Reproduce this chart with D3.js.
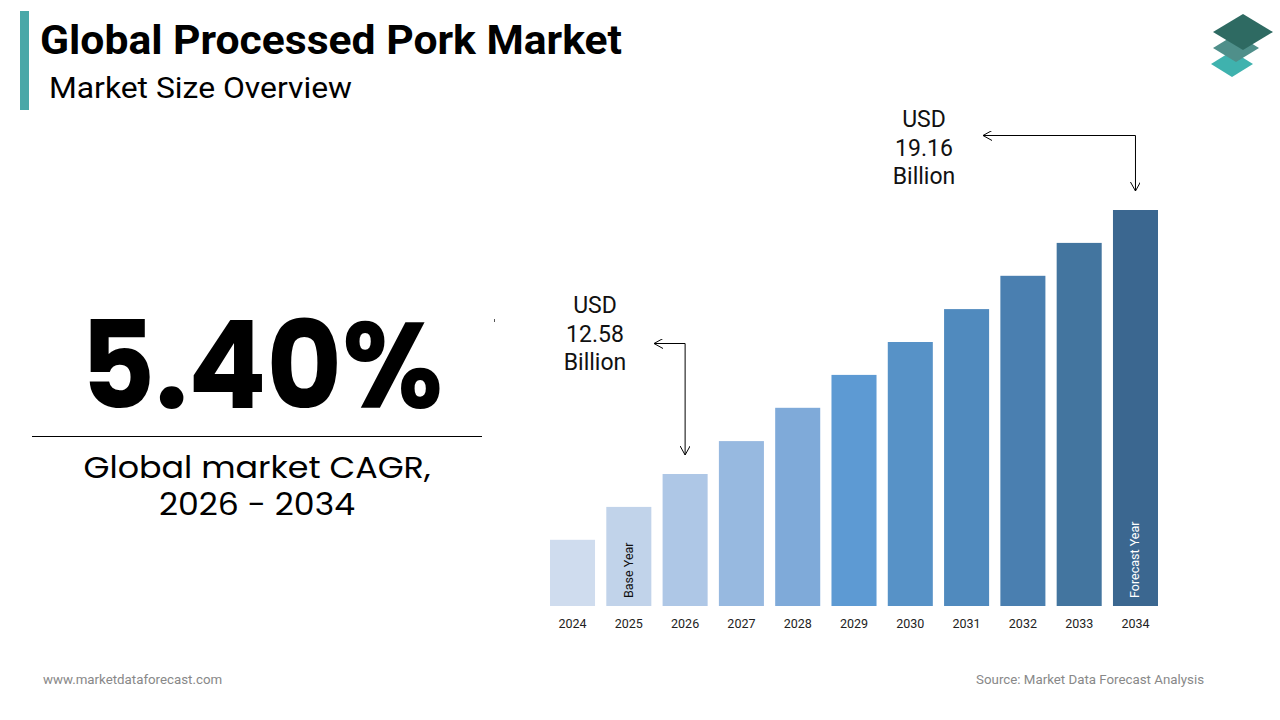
<!DOCTYPE html>
<html><head><meta charset="utf-8">
<script src="https://cdn.jsdelivr.net/npm/d3@7"></script>
<style>html,body{margin:0;padding:0;background:#fff;}svg{display:block;}</style>
</head><body>
<svg id="chart" width="1280" height="720"></svg>
<script>
// ---- data ----
const years = ["2024","2025","2026","2027","2028","2029","2030","2031","2032","2033","2034"];
const marketSize = [10.94, 11.76, 12.58, 13.40, 14.23, 15.05, 15.87, 16.69, 17.52, 18.34, 19.16]; // USD billion
const barColors = ["#cfdcee","#c1d3ea","#aec7e6","#97b9e0","#7faad9","#5d9ad3","#5792c7","#508abe","#4a7fb0","#43759f","#3b6790"];
const callouts = [
  {year:"2026", lines:["USD","12.58","Billion"]},
  {year:"2034", lines:["USD","19.16","Billion"]}
];
const cagrText = "5.40%";
const cagrLabel = ["Global market CAGR,","2026 - 2034"];

const svg = d3.select("#chart");

// defs: arrow marker
const defs = svg.append("defs");
defs.append("marker").attr("id","arr").attr("viewBox","0 0 10 10").attr("refX",9).attr("refY",5)
  .attr("markerWidth",10).attr("markerHeight",10).attr("markerUnits","userSpaceOnUse").attr("orient","auto")
  .append("path").attr("d","M0,0 L9,5 L0,10").attr("fill","none").attr("stroke","#000").attr("stroke-width",1);

// title block
svg.append("rect").attr("x",20).attr("y",11).attr("width",9).attr("height",99).attr("fill","#4aa8a8");
svg.append("text").attr("x",40).attr("y",54).text("Global Processed Pork Market")
  .attr("font-family","Roboto").attr("font-weight",700).attr("font-size",41)
  .attr("textLength",582).attr("lengthAdjust","spacingAndGlyphs").attr("fill","#000");
svg.append("text").attr("x",49).attr("y",98).text("Market Size Overview")
  .attr("font-family","Roboto").attr("font-size",30)
  .attr("textLength",303).attr("lengthAdjust","spacingAndGlyphs").attr("fill","#000");

// logo
const logo = svg.append("g");
const rh = (cx,cy,w,h,c)=>logo.append("path")
  .attr("d",`M${cx},${cy-h/2} L${cx+w/2},${cy} L${cx},${cy+h/2} L${cx-w/2},${cy} Z`).attr("fill",c);
rh(1232,64,42,26,"#3fb2ae");
rh(1236,48,46,28,"#4f8f8a");
rh(1243,32,60,36,"#2e6a62");

// big CAGR
svg.append("text").attr("x",80).attr("y",408).text(cagrText)
  .attr("font-family","Poppins, Inter").attr("font-weight",700).attr("font-size",122)
  .attr("textLength",363).attr("lengthAdjust","spacingAndGlyphs").attr("fill","#000");
svg.append("line").attr("x1",32).attr("x2",482).attr("y1",436.5).attr("y2",436.5).attr("stroke","#000").attr("stroke-width",1);
svg.selectAll("text.cagrl").data(cagrLabel).join("text").attr("class","cagrl")
  .attr("x",257).attr("y",(d,i)=>478+i*37).attr("text-anchor","middle").text(d=>d)
  .attr("textLength",(d,i)=>i===0?347:196).attr("lengthAdjust","spacingAndGlyphs")
  .attr("font-family","Poppins, 'Noto Sans', sans-serif").attr("font-size",30).attr("fill","#000");
svg.append("rect").attr("x",494).attr("y",319).attr("width",1).attr("height",3).attr("fill","#555");

// scales
const x = d3.scaleBand().domain(years).range([550,1158]).paddingInner(0.2).paddingOuter(0);
const y = d3.scaleLinear().domain([9.29, 19.16]).range([606, 210]);

// bars
svg.selectAll("rect.bar").data(years).join("rect").attr("class","bar")
  .attr("x",d=>x(d)).attr("width",x.bandwidth())
  .attr("y",(d,i)=>y(marketSize[i])).attr("height",(d,i)=>y.range()[0]-y(marketSize[i]))
  .attr("fill",(d,i)=>barColors[i]);

// x axis
const xAxis = svg.append("g").attr("transform","translate(0,606)")
  .call(d3.axisBottom(x).tickSize(0).tickPadding(13));
xAxis.select(".domain").remove();
xAxis.selectAll("text").attr("font-family","Roboto").attr("font-size",12.5).attr("fill","#222");

// in-bar labels
const inLabel = (yr,txt,col)=>{
  const cx = x(yr)+x.bandwidth()/2;
  svg.append("text").attr("transform",`translate(${cx+4},${y.range()[0]-8}) rotate(-90)`)
    .text(txt).attr("font-family","Roboto").attr("font-size",12.5).attr("fill",col);
};
inLabel("2025","Base Year","#111");
inLabel("2034","Forecast Year","#fff");

// callouts
const co1 = callouts[0], co2 = callouts[1];
function drawCallout(co, tx, ty, hx1, hy, vy2){
  const bx = x(co.year)+x.bandwidth()/2;
  svg.selectAll(null).data(co.lines).join("text")
    .attr("x",tx).attr("y",(d,i)=>ty+i*28.5).attr("text-anchor","middle").text(d=>d)
    .attr("font-family","Roboto").attr("font-size",23).attr("fill","#111");
  svg.append("line").attr("x1",bx).attr("y1",hy).attr("x2",hx1).attr("y2",hy)
    .attr("stroke","#000").attr("stroke-width",1).attr("marker-end","url(#arr)");
  svg.append("line").attr("x1",bx).attr("y1",hy).attr("x2",bx).attr("y2",vy2)
    .attr("stroke","#000").attr("stroke-width",1).attr("marker-end","url(#arr)");
}
drawCallout(co1, 595, 313, 654, 343.5, 455);
drawCallout(co2, 924, 127, 983, 135.5, 191);

// footer
svg.append("text").attr("x",43).attr("y",684).text("www.marketdataforecast.com")
  .attr("font-family","Roboto").attr("font-size",13.3).attr("fill","#888");
svg.append("text").attr("x",1204).attr("y",684).attr("text-anchor","end").text("Source: Market Data Forecast Analysis")
  .attr("font-family","Roboto").attr("font-size",13.3).attr("fill","#888");
</script>
</body></html>
